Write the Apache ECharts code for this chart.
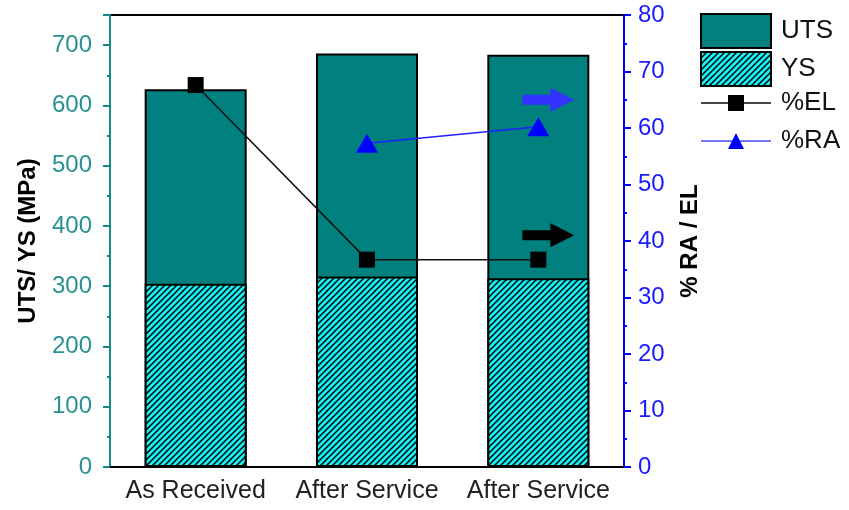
<!DOCTYPE html>
<html>
<head>
<meta charset="utf-8">
<script src="https://cdn.jsdelivr.net/npm/echarts@6/dist/echarts.min.js"></script>
<style>
  html, body { margin: 0; padding: 0; background: #fff; }
  #main { width: 849px; height: 510px; }
</style>
</head>
<body>
<div id="main"></div>
<script>
var categories = ['As Received', 'After Service', 'After Service'];
var utsValues = [627, 686, 684];
var ysValues = [304, 316, 313];
var elValues = [67.6, 36.7, 36.7];
var raValues = ['-', 57.3, 60.2];

// hatch pattern for YS (cyan with black diagonal lines)
function makeHatch() {
  var s = 6;
  var c = document.createElement('canvas');
  c.width = s; c.height = s;
  var ctx = c.getContext('2d');
  ctx.fillStyle = '#11F7F7';
  ctx.fillRect(0, 0, s, s);
  ctx.strokeStyle = '#000';
  ctx.lineWidth = 1.5;
  ctx.beginPath();
  ctx.moveTo(0, s); ctx.lineTo(s, 0);
  ctx.moveTo(-1, 1); ctx.lineTo(1, -1);
  ctx.moveTo(s - 1, s + 1); ctx.lineTo(s + 1, s - 1);
  ctx.stroke();
  return c;
}

var arrowPath = 'path://M0,7 L28,7 L28,0 L52,12 L28,24 L28,17 L0,17 Z';
var font = 'Liberation Sans, Arial, sans-serif';

var chart = echarts.init(document.getElementById('main'));
chart.setOption({
  animation: false,
  textStyle: { fontFamily: font },
  grid: {
    left: 110, right: 225, top: 15, bottom: 43,
    show: true, borderColor: '#000', borderWidth: 2
  },
  legend: [{
    orient: 'vertical',
    left: 695, top: 8,
    icon: 'rect',
    itemWidth: 70, itemHeight: 34, itemGap: 2,
    textStyle: { fontSize: 26, color: '#111', fontFamily: font, padding: [0, 0, 0, 5] },
    data: ['UTS', 'YS']
  }, {
    orient: 'vertical',
    left: 695, top: 85,
    itemWidth: 70, itemHeight: 20, itemGap: 12,
    textStyle: { fontSize: 26, color: '#111', fontFamily: font, padding: [0, 0, 0, 5] },
    data: [
      { name: '%EL', lineStyle: { color: '#444' } },
      { name: '%RA', lineStyle: { color: '#7777ff' } }
    ]
  }],
  xAxis: [{
    type: 'category',
    data: categories,
    axisLine: { lineStyle: { color: '#000', width: 2 } },
    axisTick: { alignWithLabel: true, length: 6, lineStyle: { color: '#000', width: 2 } },
    axisLabel: { interval: 0, hideOverlap: false, fontSize: 25, color: '#222', margin: 12, fontFamily: font }
  }, {
    type: 'category',
    data: categories,
    position: 'bottom',
    axisLine: { show: false },
    axisTick: { length: 3, lineStyle: { color: '#000', width: 2 } },
    axisLabel: { show: false }
  }],
  yAxis: [{
    type: 'value',
    min: 0, max: 750, interval: 100,
    name: 'UTS/ YS (MPa)',
    nameLocation: 'middle',
    nameGap: 70,
    nameTextStyle: { fontSize: 24, fontWeight: 'bold', color: '#000', fontFamily: font },
    axisLine: { show: true, lineStyle: { color: '#138a8a', width: 2 } },
    axisTick: { show: true, length: 7, lineStyle: { color: '#138a8a', width: 2 } },
    minorTick: { show: true, splitNumber: 2, length: 3, lineStyle: { color: '#138a8a', width: 2 } },
    axisLabel: { fontSize: 24, color: '#2a9090', margin: 18, showMaxLabel: false, fontFamily: font },
    splitLine: { show: false }
  }, {
    type: 'value',
    min: 0, max: 80, interval: 10,
    name: '% RA / EL',
    nameLocation: 'middle',
    nameGap: 54,
    nameTextStyle: { fontSize: 24, fontWeight: 'bold', color: '#000', fontFamily: font },
    axisLine: { show: true, lineStyle: { color: '#0000ff', width: 2 } },
    axisTick: { show: true, length: 7, lineStyle: { color: '#0000ff', width: 2 } },
    minorTick: { show: true, splitNumber: 2, length: 3, lineStyle: { color: '#0000ff', width: 2 } },
    axisLabel: { fontSize: 24, color: '#1a1aff', margin: 14, fontFamily: font },
    splitLine: { show: false }
  }],
  series: [{
    name: 'UTS',
    type: 'bar',
    data: utsValues,
    barWidth: 102,
    barGap: '-100%',
    itemStyle: { color: '#00807e', borderColor: '#000', borderWidth: 2 }
  }, {
    name: 'YS',
    type: 'bar',
    data: ysValues,
    barWidth: 102,
    barGap: '-100%',
    itemStyle: { color: { image: makeHatch(), repeat: 'repeat' }, borderColor: '#000', borderWidth: 2 }
  }, {
    name: '%EL',
    type: 'line',
    yAxisIndex: 1,
    data: elValues,
    symbol: 'rect',
    symbolSize: 16,
    itemStyle: { color: '#000' },
    lineStyle: { color: '#111', width: 1.5 },
    markPoint: {
      symbol: arrowPath,
      symbolSize: [52, 24],
      symbolOffset: [10, 0],
      label: { show: false },
      itemStyle: { color: '#000' },
      data: [{ coord: [2, 41] }]
    }
  }, {
    name: '%RA',
    type: 'line',
    yAxisIndex: 1,
    data: raValues,
    symbol: 'triangle',
    symbolSize: [22, 19],
    itemStyle: { color: '#0000ff' },
    lineStyle: { color: '#2020ff', width: 1.5 },
    markPoint: {
      symbol: arrowPath,
      symbolSize: [52, 24],
      symbolOffset: [10, 0],
      label: { show: false },
      itemStyle: { color: '#3333ff' },
      data: [{ coord: [2, 65] }]
    }
  }]
});
</script>
</body>
</html>
